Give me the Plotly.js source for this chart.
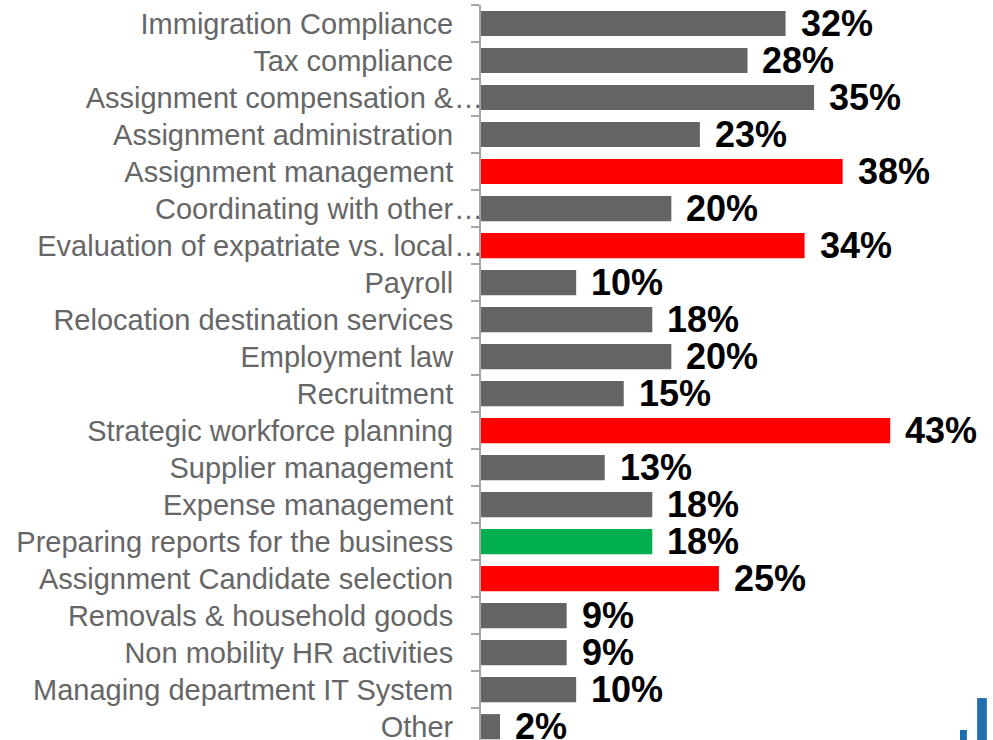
<!DOCTYPE html>
<html>
<head>
<meta charset="utf-8">
<script src="https://cdn.plot.ly/plotly-3.0.1.min.js"></script>
<style>html,body{margin:0;padding:0;background:#fff;overflow:hidden}#chart{width:993px;height:740px}</style>
</head>
<body>
<div id="chart"></div>
<script>
const categories = [
  "Immigration Compliance",
  "Tax compliance",
  "Assignment compensation &…",
  "Assignment administration",
  "Assignment management",
  "Coordinating with other…",
  "Evaluation of expatriate vs. local…",
  "Payroll",
  "Relocation destination services",
  "Employment law",
  "Recruitment",
  "Strategic workforce planning",
  "Supplier management",
  "Expense management",
  "Preparing reports for the business",
  "Assignment Candidate selection",
  "Removals & household goods",
  "Non mobility HR activities",
  "Managing department IT System",
  "Other"
];
const values = [32, 28, 35, 23, 38, 20, 34, 10, 18, 20, 15, 43, 13, 18, 18, 25, 9, 9, 10, 2];
const highlight = ["", "", "", "", "red", "", "red", "", "", "", "", "red", "", "", "green", "red", "", "", "", ""];

const colorMap = {"": "#646464", "red": "#FF0000", "green": "#00B050"};
const colors = highlight.map(h => colorMap[h]);
const labelFont = {family: "Liberation Sans, Arial, sans-serif", size: 29, color: "#666666"};

// tick labels: the trailing ellipsis hangs past the label column, as in the source
const tickText = categories.map(c => c.endsWith("…") ? c.slice(0, -1) : c);

const trace = {
  type: "bar",
  orientation: "h",
  x: values,
  y: categories,
  marker: {color: colors, line: {width: 0}},
  hoverinfo: "skip"
};

const annotations = values.map((v, i) => ({
  x: v, y: categories[i], xref: "x", yref: "y",
  text: v + "%", showarrow: false, xanchor: "left", yanchor: "middle",
  xshift: 13,
  font: {family: "Liberation Sans, Arial, sans-serif", size: 36, color: "#000000", weight: "bold"}
}));
categories.forEach((c, i) => {
  if (c.endsWith("…")) {
    annotations.push({
      x: 0, y: c, xref: "x", yref: "y", text: "…", showarrow: false,
      xanchor: "left", yanchor: "middle", xshift: -29, yshift: 0,
      font: labelFont
    });
  }
});

const layout = {
  width: 993, height: 740,
  margin: {l: 481, r: 0, t: 5, b: 0, pad: 0},
  paper_bgcolor: "#ffffff", plot_bgcolor: "#ffffff",
  showlegend: false,
  bargap: 0.32,
  xaxis: {range: [0, 53.8], visible: false, showgrid: false, zeroline: false, fixedrange: true},
  yaxis: {
    type: "category",
    categoryorder: "array", categoryarray: categories,
    tickmode: "array", tickvals: categories, ticktext: tickText,
    range: [19.36, -0.5],
    showline: true, linecolor: "#A6A6A6", linewidth: 2,
    ticks: "outside", ticklen: 8, tickcolor: "#A6A6A6", tickwidth: 2,
    tickson: "boundaries",
    ticklabelstandoff: 20,
    showgrid: false, zeroline: false,
    tickfont: labelFont
  },
  annotations: annotations,
  shapes: [
    {type: "rect", xref: "paper", yref: "paper", x0: 0.9355, x1: 0.949, y0: -0.05, y1: 0.0136, fillcolor: "#1F6FAE", line: {width: 0}},
    {type: "rect", xref: "paper", yref: "paper", x0: 0.969, x1: 0.988, y0: -0.05, y1: 0.057, fillcolor: "#1F6FAE", line: {width: 0}}
  ]
};

Plotly.newPlot("chart", [trace], layout, {displayModeBar: false, staticPlot: true});
</script>
</body>
</html>
